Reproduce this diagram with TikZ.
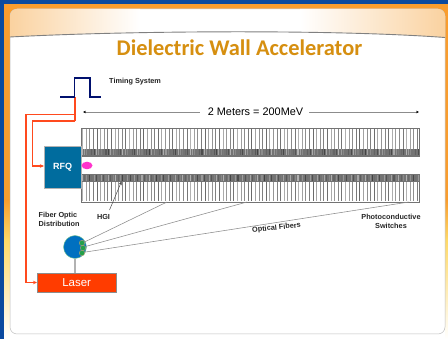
\documentclass[tikz,border=0pt]{standalone}
\usepackage{fontspec}
\setmainfont{Liberation Sans}
\newfontfamily\titlefont{Carlito}
\usetikzlibrary{arrows.meta,calc,shapes.geometric}
\definecolor{frameblue}{HTML}{0B4A9E}
\definecolor{frameorange}{HTML}{F99D2E}
\definecolor{framelight}{HTML}{FFD966}
\definecolor{headtint}{HTML}{FAD2A0}
\definecolor{titlecol}{HTML}{D68F10}
\definecolor{navy}{HTML}{00106E}
\definecolor{redline}{HTML}{FF4A1E}
\definecolor{rfqblue}{HTML}{006C9E}
\definecolor{laserred}{HTML}{FF3C00}
\definecolor{discblue}{HTML}{0070C0}
\definecolor{dotgreen}{HTML}{22A04A}
\definecolor{pinkblob}{HTML}{FF33CC}
\definecolor{fibergray}{HTML}{8C8C8C}
\tikzset{
  lab/.style={font=\bfseries\fontsize{7.3}{9}\selectfont,text=black!85,inner sep=0pt},
  pulse/.style={navy,line width=1.4pt},
  feed/.style={redline,line width=1.1pt,-{Stealth[length=4pt,width=3.5pt]}},
  dim/.style={black!45,line width=.8pt,-{Stealth[length=3pt,width=2.6pt,black]}},
  fiber/.style={fibergray,line width=.55pt},
  barbox/.style={draw=black!55,line width=.5pt,fill=white,inner sep=0pt,minimum width=338pt},
  blockbox/.style={inner sep=0pt,text=white,draw=black!30,line width=.3pt}
}
\begin{document}
\begin{tikzpicture}[x=1pt,y=-1pt]
\useasboundingbox (0,0) rectangle (448,339);
% frame
\fill[white] (0,0) rectangle (448,339);
\fill[frameorange] (0,0) rectangle (448,200);
\shade[top color=frameorange,bottom color=framelight] (0,200) rectangle (448,240);
\shade[top color=framelight,bottom color=white] (0,240) rectangle (448,339);
\fill[frameblue] (0,0) rectangle (448,4);
\fill[frameblue] (0,0) rectangle (4,339);
\fill[white] (10,320) rectangle (445,339);
% panel
\draw[black!25,line width=.5pt,fill=white,rounded corners=7pt] (10,9) rectangle (445,334);
% header
\begin{scope}
\clip[rounded corners=7pt] (10,50) -- (10,9) -- (445,9) -- (445,50) -- cycle;
\clip (10,37) .. controls (120,31) and (330,29) .. (445,37.5) -- (445,5) -- (10,5) -- cycle;
\shade[left color=headtint,right color=white] (10,5) rectangle (140,40);
\shade[left color=white,right color=headtint] (300,5) rectangle (445,40);
\end{scope}
\draw[black!50,line width=.9pt] (10,37) .. controls (120,31) and (330,29) .. (445,37.5);
% title
\node[font=\titlefont\bfseries\fontsize{22.4}{24}\selectfont,text=titlecol,inner sep=0pt] (title) at (239.5,47.5) {Dielectric Wall Accelerator};
% pulse
\coordinate (p0) at (60,97); \coordinate (p1) at (74.5,97); \coordinate (p2) at (74.5,78);
\coordinate (p3) at (90,78); \coordinate (p4) at (90,97); \coordinate (p5) at (101,97);
% bars
\node[barbox,minimum height=28pt,anchor=north west] (upper) at (81,128) {};
\node[barbox,minimum height=28pt,anchor=north west] (lower) at (81,174) {};
\begin{scope}
\foreach \i in {0,...,93}{
  \pgfmathsetmacro{\xx}{82.5+\i*3.6}
  \pgfmathtruncatemacro{\g}{30+mod(\i*37,30)}
  \draw[black!\g,line width=.75pt] (\xx,128.5) -- (\xx,149);
  \draw[black!\g,line width=.75pt] (\xx,182) -- (\xx,201.5);
}
\fill[black!55] (81,149) rectangle (419,156);
\fill[black!55] (81,174.3) rectangle (419,182);
\foreach \i in {0,...,140}{
  \pgfmathsetmacro{\xx}{82+\i*2.4}
  \pgfmathtruncatemacro{\g}{30+mod(\i*53,45)}
  \pgfmathsetmacro{\w}{.6+.1*mod(\i*7,8)}
  \draw[black!\g,line width=\w pt] (\xx,149.5) -- (\xx,155.5);
  \pgfmathtruncatemacro{\h}{30+mod(\i*29,45)}
  \draw[black!\h,line width=\w pt] (\xx,174.8) -- (\xx,181.5);
}
\end{scope}
\draw[black!55,line width=.5pt] (upper.north west) rectangle (upper.south east);
\draw[black!55,line width=.5pt] (lower.north west) rectangle (lower.south east);
% RFQ and laser
\node[blockbox,fill=rfqblue,minimum width=37pt,minimum height=42pt,anchor=north west,font=\bfseries\fontsize{9}{10}\selectfont] (rfq) at (44,146) {RFQ};
\node[blockbox,draw=black!45,fill=laserred,minimum width=79pt,minimum height=19pt,anchor=north west,font=\fontsize{11.5}{12}\selectfont] (laser) at (37,273) {Laser};
\node[ellipse,fill=pinkblob,inner sep=0pt,minimum width=11pt,minimum height=7.5pt] (blob) at (87,165.5) {};
% red lines
\coordinate (j0) at (75,97); \coordinate (j1) at (75,114.5); \coordinate (j2) at (75,121);
\draw[redline,line width=1.1pt] (j0) -- (j2);
\draw[feed] (j1) -- (26,114.5) |- (laser.west |- 0,282.5);
\draw[feed] (j2) -- (32.5,121) |- (rfq.west |- 0,166);
\draw[pulse] (p0) -- (p1) -- (p2) -- (p3) -- (p4) -- (p5);
% dimension
\node[font=\fontsize{10.9}{12}\selectfont,inner sep=0pt] (dimtext) at (255.5,112) {2 Meters = 200MeV};
\coordinate (dimL) at (83,112); \coordinate (dimR) at (419,112);
\draw[dim] (dimtext.west) ++(-8,0) -- (dimL);
\draw[dim] (dimtext.east) ++(6,0) -- (dimR);
% disc
\node[circle,fill=discblue,draw=dotgreen!60,line width=.4pt,inner sep=0pt,minimum size=23pt] (disc) at (75,247) {};
\draw[black!30,line width=1.3pt] (disc.south) -- (laser.north -| disc.south);
\node[circle,fill=dotgreen,draw=brown!70,line width=.3pt,inner sep=0pt,minimum size=5.5pt] (d1) at (82,243) {};
\node[circle,fill=dotgreen,draw=brown!70,line width=.3pt,inner sep=0pt,minimum size=5.5pt] (d2) at (83,248) {};
\node[circle,fill=dotgreen,draw=brown!70,line width=.3pt,inner sep=0pt,minimum size=5.5pt] (d3) at (82,253) {};
% fibers
\coordinate (f1) at (167,202); \coordinate (f2) at (247,202); \coordinate (f3) at (409,202);
\draw[fiber] (d1) ++(2.5,-1) -- (f1);
\draw[fiber] (d2) ++(2.5,-1.5) -- (f2);
\draw[fiber] (d3) ++(2.5,-.8) -- (f3);
% labels
\node[lab,anchor=west] (timing) at (109,81.5) {Timing System};
\node[lab,anchor=north west,align=left] (fod) at (38.5,212) {Fiber Optic\\Distribution};
\node[lab] (hgi) at (103.5,216.5) {HGI};
\node[lab,align=center] (pcs) at (391,221) {Photoconductive\\Switches};
\node[lab,rotate=6] (of) at (276.5,228) {Optical Fibers};
\coordinate (hgiT) at (121.5,181.5);
\draw[black!70,line width=.5pt,-{Stealth[length=3.5pt,width=3pt]}] (109.5,210) -- (hgiT);
\end{tikzpicture}
\end{document}
